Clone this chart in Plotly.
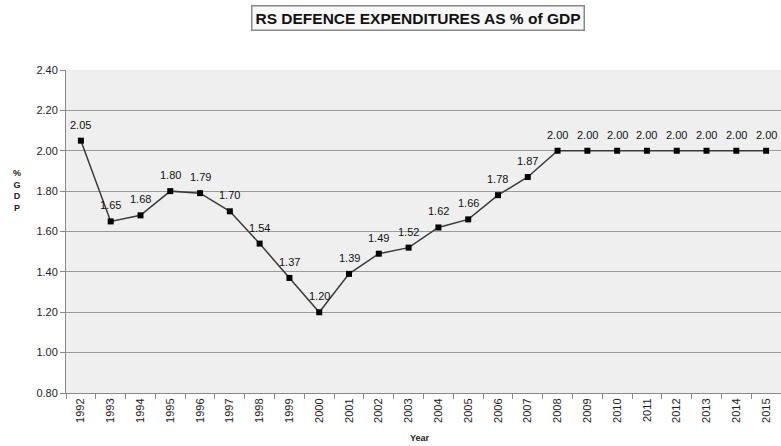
import plotly.graph_objects as go

years = [str(y) for y in range(1992, 2016)]
values = [2.05, 1.65, 1.68, 1.80, 1.79, 1.70, 1.54, 1.37, 1.20, 1.39, 1.49, 1.52,
          1.62, 1.66, 1.78, 1.87, 2.00, 2.00, 2.00, 2.00, 2.00, 2.00, 2.00, 2.00]
y_ticks = [0.8, 1.0, 1.2, 1.4, 1.6, 1.8, 2.0, 2.2, 2.4]

fig = go.Figure()
fig.add_trace(go.Scatter(
    x=years, y=values, mode="lines+markers",
    line=dict(color="#3a3a3a", width=1.5),
    marker=dict(symbol="square", size=6, color="#000000"),
    cliponaxis=False, showlegend=False, hoverinfo="x+y",
))

annotations = [
    dict(x=i, y=v, xref="x", yref="y", text=f"{v:.2f}", showarrow=False,
         yshift=16, font=dict(family="Arial, Liberation Sans", size=11, color="#111111"))
    for i, v in enumerate(values)
]
annotations += [
    dict(text="<b>RS DEFENCE EXPENDITURES AS % of GDP</b>", xref="paper", yref="paper",
         x=(418 - 66) / 715, y=1, yshift=52, yanchor="middle", showarrow=False,
         font=dict(size=15.5, color="#111111", family="Arial, Liberation Sans"),
         bordercolor="#888888", borderwidth=1.5, borderpad=3, bgcolor="#f7f7f7"),
    dict(text="<b>%<br>G<br>D<br>P</b>", xref="paper", yref="paper",
         x=-55 / 715, y=(393 - 190) / 323, showarrow=False,
         font=dict(size=9, color="#222222"), align="center"),
    dict(text="<b>Year</b>", xref="paper", yref="paper",
         x=(420 - 66) / 715, y=0, yshift=-45, yanchor="middle", showarrow=False,
         font=dict(size=9, color="#222222")),
]

fig.update_layout(
    width=781, height=446,
    margin=dict(l=66, r=0, t=70, b=53),
    paper_bgcolor="white", plot_bgcolor="#efefef",
    font=dict(family="Arial, Liberation Sans", size=10, color="#222222"),
    xaxis=dict(type="category", range=[-0.5, 23.5], tickson="boundaries",
               ticks="outside", ticklen=5, tickcolor="#888888",
               showline=True, linecolor="#888888", linewidth=1,
               showgrid=False, tickangle=-90,
               tickfont=dict(size=11)),
    yaxis=dict(range=[0.8, 2.4], tickvals=y_ticks, tickformat=".2f",
               ticks="outside", ticklen=5, tickcolor="#888888",
               showline=True, linecolor="#888888", linewidth=1,
               showgrid=True, gridcolor="#9a9a9a", gridwidth=1.2,
               zeroline=False, tickfont=dict(size=11)),
    annotations=annotations,
)

fig.write_html("out.html", config={"displayModeBar": False},
               post_script="document.body.style.margin='0';")
